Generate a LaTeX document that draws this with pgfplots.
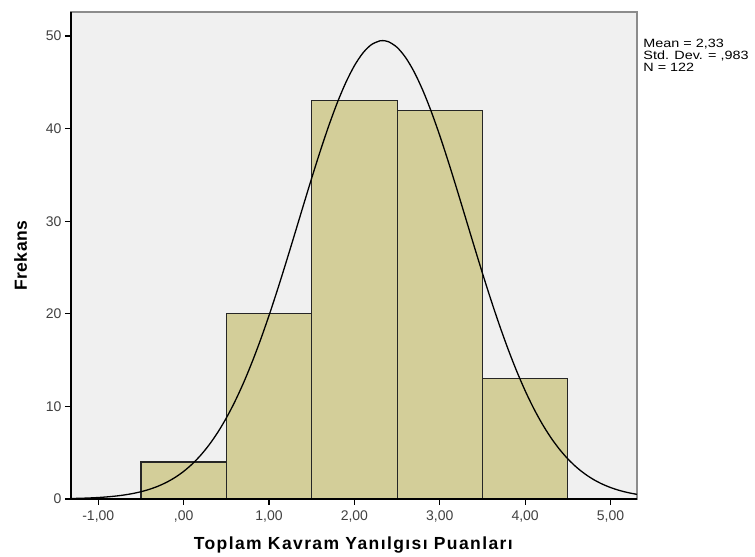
\documentclass[border=0pt]{standalone}
\usepackage{pgfplots}
\pgfplotsset{compat=1.18}
\usepackage{fontspec}
\setmainfont{Liberation Sans}
\definecolor{barfill}{RGB}{211,206,153}
\definecolor{bg}{RGB}{240,240,240}
\definecolor{frame}{RGB}{140,140,140}
\begin{document}
\begin{tikzpicture}
\begin{axis}[
  scale only axis, width=566pt, height=487pt,
  xmin=-1.32, xmax=5.31, ymin=0, ymax=52.6,
  axis background/.style={fill=bg},
  axis line style={draw=frame, line width=1.4pt},
  xtick={-1,0,1,2,3,4,5},
  xticklabels={{-1,00},{,00},{1,00},{2,00},{3,00},{4,00},{5,00}},
  ytick={0,10,20,30,40,50},
  xtick pos=bottom, ytick pos=left,
  tick align=outside, major tick length=6pt,
  tick style={black, line width=1.2pt},
  /pgf/number format/assume math mode=true,
  tick label style={font=\fontsize{14}{16}\selectfont, text=black!75},
  xticklabel style={yshift=-2pt},
  yticklabel style={xshift=0pt},
  xlabel={\addfontfeature{LetterSpace=8}\textbf{Toplam Kavram Yanılgısı Puanları}},
  ylabel={\addfontfeature{LetterSpace=3}\textbf{Frekans}},
  label style={font=\fontsize{17.5}{19}\selectfont},
  xlabel style={yshift=-8pt},
  ylabel style={yshift=12pt},
  clip=false,
]
\addplot[ybar interval, fill=barfill, draw=black!85, line width=1.1pt] coordinates {
  (-0.5,4) (0.5,20) (1.5,43) (2.5,42) (3.5,13) (4.5,13)
};
\addplot[black, line width=1.3pt, smooth] coordinates {
(-1.32,0.049) (-1.3,0.054) (-1.2,0.078) (-1.1,0.112) (-1.0,0.159) (-0.9,0.224)
(-0.8,0.311) (-0.7,0.428) (-0.6,0.583) (-0.5,0.785) (-0.4,1.047) (-0.3,1.382)
(-0.2,1.804) (-0.1,2.331) (0.0,2.982) (0.1,3.776) (0.2,4.734) (0.3,5.870)
(0.4,7.205) (0.5,8.752) (0.6,10.523) (0.7,12.520) (0.8,14.746) (0.9,17.186)
(1.0,19.823) (1.1,22.632) (1.2,25.572) (1.3,28.594) (1.4,31.647) (1.5,34.664)
(1.6,37.578) (1.7,40.318) (1.8,42.812) (1.9,44.992) (2.0,46.798) (2.1,48.174)
(2.2,49.080) (2.3,49.487) (2.33,49.51) (2.4,49.385) (2.5,48.775) (2.6,47.677)
(2.7,46.125) (2.8,44.163) (2.9,41.848) (3.0,39.248) (3.1,36.431) (3.2,33.466)
(3.3,30.426) (3.4,27.379) (3.5,24.383) (3.6,21.490) (3.7,18.746) (3.8,16.185)
(3.9,13.829) (4.0,11.694) (4.1,9.787) (4.2,8.109) (4.3,6.646) (4.4,5.393)
(4.5,4.330) (4.6,3.441) (4.7,2.707) (4.8,2.107) (4.9,1.623) (5.0,1.238)
(5.1,0.934) (5.2,0.698) (5.3,0.516) (5.31,0.50)
};
\draw[black, line width=1.6pt] (rel axis cs:0,1) -- (rel axis cs:0,0) -- (rel axis cs:1,0);
\node[anchor=north west, align=left, font=\fontsize{12}{11.8}\selectfont\addfontfeature{FakeStretch=1.2}, inner sep=0pt]
  at (rel axis cs:1.011,0.944) {Mean = 2,33\\Std. Dev. = ,983\\N = 122};
\path (rel axis cs:-0.1254,-0.1191) rectangle (rel axis cs:1.2085,1.0246);
\end{axis}
\end{tikzpicture}
\end{document}
